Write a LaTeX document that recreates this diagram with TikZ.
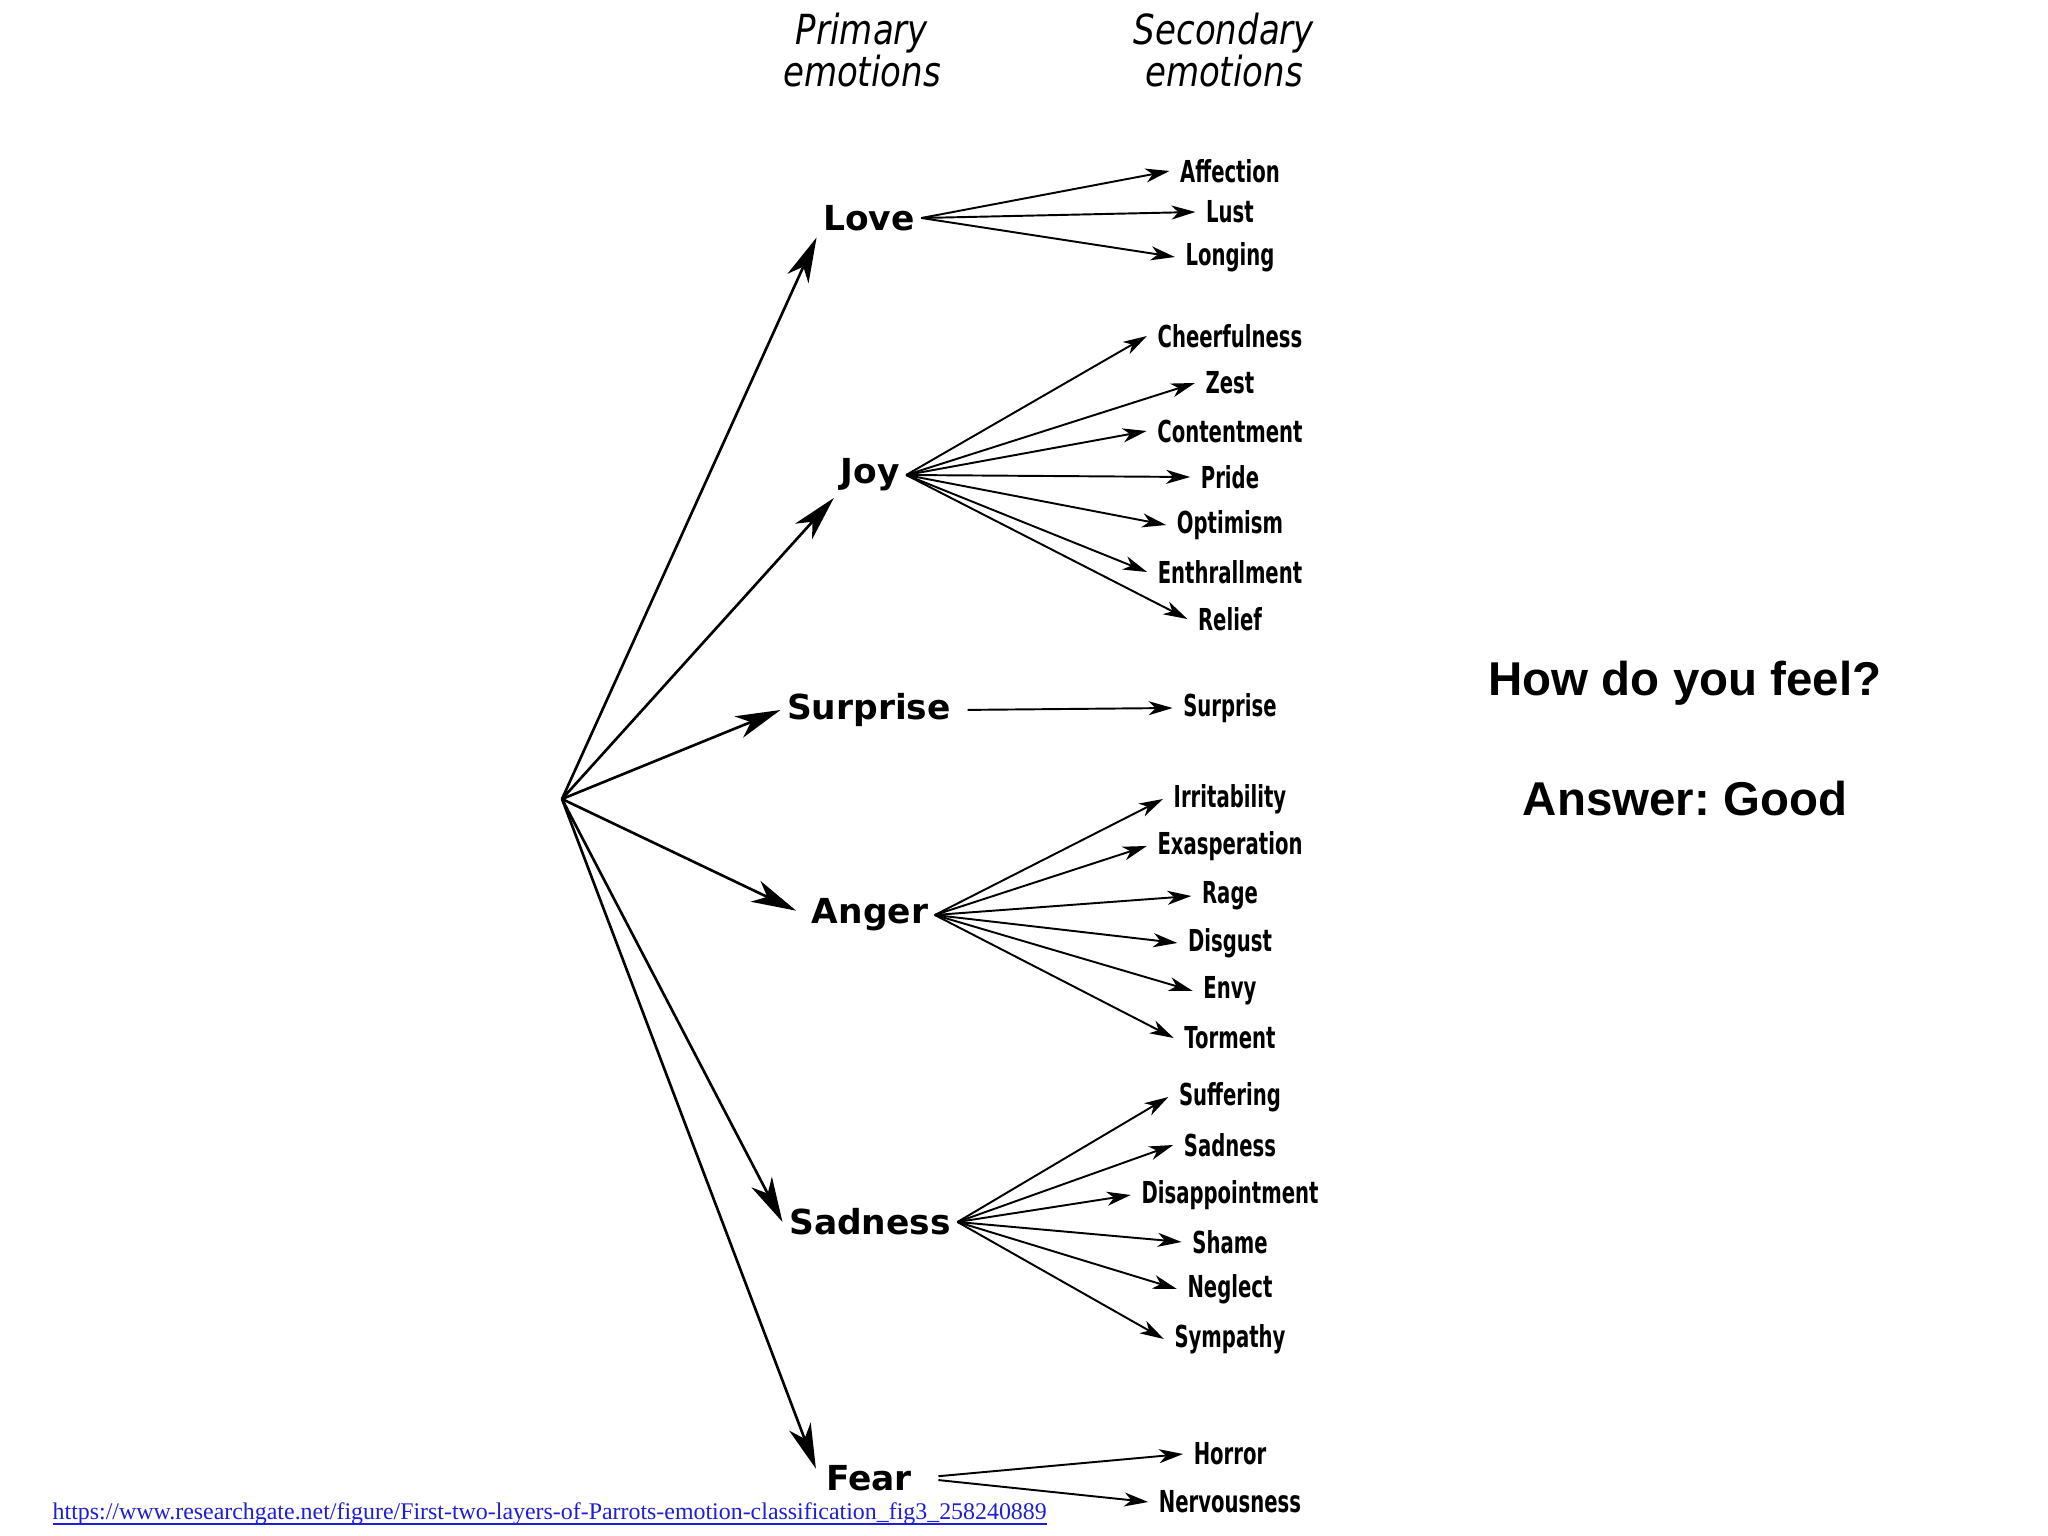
\documentclass[tikz,border=0pt]{standalone}
\usepackage{fontspec}
\usepackage{tikz}
\usetikzlibrary{arrows.meta}
\usetikzlibrary{positioning}
\newfontfamily\primfont{DejaVu Sans}
\newfontfamily\secfont{DejaVu Sans}[FakeStretch=0.65]
\newfontfamily\headfont{DejaVu Sans}[FakeStretch=0.82]
\newfontfamily\askfont{Liberation Sans}
\newfontfamily\linkfont{Liberation Serif}
\definecolor{linkblue}{RGB}{30,30,215}
\frenchspacing
\tikzset{primary/.style = {font=\primfont\bfseries\fontsize{9.8}{10}\selectfont, inner sep=0.6mm},
         secondary/.style = {font=\secfont\bfseries\fontsize{8.6}{9}\selectfont, inner xsep=1mm, inner ysep=0.5mm},
         header/.style = {font=\headfont\itshape\fontsize{11.8}{12}\selectfont, align=center},
         question/.style = {font=\askfont\bfseries\fontsize{13.5}{16}\selectfont},
         bigarrow/.style = {-{Stealth[length=4.5mm, width=2.3mm, inset=1.3mm]}, line width=0.75pt},
         smallarrow/.style = {-{Stealth[length=2.4mm, width=1.4mm, inset=0.7mm]}, line width=0.55pt}}

\begin{document}
\begin{tikzpicture}
    \useasboundingbox (0,0) rectangle (20.48,-15.36);

    \node[header] (primhead) at (8.62, -0.50) {Primary\\emotions};
    \node[header] (sechead) at (12.24, -0.50) {Secondary\\emotions};

    \coordinate (origin) at (5.62, -7.99);

    \node[primary] (love) at (8.69, -2.18) {Love};
    \node[primary] (joy) at (8.70, -4.75) {Joy};
    \node[primary] (surprise) at (8.69, -7.10) {Surprise};
    \node[primary] (anger) at (8.70, -9.15) {Anger};
    \node[primary] (sadness) at (8.70, -12.22) {Sadness};
    \node[primary] (fear) at (8.69, -14.78) {Fear};

    \draw[bigarrow] (origin) -- (love.south west);
    \draw[bigarrow] (origin) -- (joy.south west);
    \draw[bigarrow] (origin) -- (surprise.west);
    \draw[bigarrow, shorten >=1mm] (origin) -- (anger.west);
    \draw[bigarrow] (origin) -- (sadness.west);
    \draw[bigarrow, shorten >=1mm] (origin) -- (fear.west);

    \node[secondary] (affection) at (12.30, -1.71) {Affection};
    \node[secondary] (lust) at (12.30, -2.12) {Lust};
    \node[secondary] (longing) at (12.30, -2.57) {Longing};

    \node[secondary] (cheerfulness) at (12.30, -3.36) {Cheerfulness};
    \node[secondary] (zest) at (12.30, -3.83) {Zest};
    \node[secondary] (contentment) at (12.30, -4.31) {Contentment};
    \node[secondary] (pride) at (12.30, -4.77) {Pride};
    \node[secondary] (optimism) at (12.30, -5.25) {Optimism};
    \node[secondary] (enthrallment) at (12.30, -5.72) {Enthrallment};
    \node[secondary] (relief) at (12.30, -6.19) {Relief};

    \node[secondary] (surprisesec) at (12.30, -7.08) {Surprise};

    \node[secondary] (irritability) at (12.30, -7.99) {Irritability};
    \node[secondary] (exasperation) at (12.30, -8.46) {Exasperation};
    \node[secondary] (rage) at (12.30, -8.96) {Rage};
    \node[secondary] (disgust) at (12.30, -9.43) {Disgust};
    \node[secondary] (envy) at (12.30, -9.91) {Envy};
    \node[secondary] (torment) at (12.30, -10.38) {Torment};

    \node[secondary] (suffering) at (12.30, -10.97) {Suffering};
    \node[secondary] (sadnesssec) at (12.30, -11.45) {Sadness};
    \node[secondary] (disappointment) at (12.30, -11.95) {Disappointment};
    \node[secondary] (shame) at (12.30, -12.42) {Shame};
    \node[secondary] (neglect) at (12.30, -12.89) {Neglect};
    \node[secondary] (sympathy) at (12.30, -13.39) {Sympathy};

    \node[secondary] (horror) at (12.30, -14.54) {Horror};
    \node[secondary] (nervousness) at (12.30, -15.02) {Nervousness};

    \draw[smallarrow] (love.east) -- (affection.west);
    \draw[smallarrow] (love.east) -- (lust.west);
    \draw[smallarrow] (love.east) -- (longing.west);

    \draw[smallarrow] (joy.east) -- (cheerfulness.west);
    \draw[smallarrow] (joy.east) -- (zest.west);
    \draw[smallarrow] (joy.east) -- (contentment.west);
    \draw[smallarrow] (joy.east) -- (pride.west);
    \draw[smallarrow] (joy.east) -- (optimism.west);
    \draw[smallarrow] (joy.east) -- (enthrallment.west);
    \draw[smallarrow] (joy.east) -- (relief.west);

    \draw[smallarrow, shorten <=1mm] (surprise.east) -- (surprisesec.west);

    \draw[smallarrow] (anger.east) -- (irritability.west);
    \draw[smallarrow] (anger.east) -- (exasperation.west);
    \draw[smallarrow] (anger.east) -- (rage.west);
    \draw[smallarrow] (anger.east) -- (disgust.west);
    \draw[smallarrow] (anger.east) -- (envy.west);
    \draw[smallarrow] (anger.east) -- (torment.west);

    \draw[smallarrow] (sadness.east) -- (suffering.west);
    \draw[smallarrow] (sadness.east) -- (sadnesssec.west);
    \draw[smallarrow] (sadness.east) -- (disappointment.west);
    \draw[smallarrow] (sadness.east) -- (shame.west);
    \draw[smallarrow] (sadness.east) -- (neglect.west);
    \draw[smallarrow] (sadness.east) -- (sympathy.west);

    \draw[smallarrow, shorten <=2mm] (fear.east) -- (horror.west);
    \draw[smallarrow, shorten <=2mm] (fear.east) -- (nervousness.west);

    \node[question] (ask) at (16.85, -6.83) {How do you feel?};
    \node[question] (answer) at (16.85, -7.99) {Answer: Good};

    \node[anchor=base west, inner sep=0pt, text=linkblue, font=\linkfont\fontsize{6.8}{8}\selectfont] (link) at (0.52, -15.19)
        {\underline{\smash{https://www.researchgate.net/figure/First-two-layers-of-Parrots-emotion-classification\_fig3\_258240889}}};
\end{tikzpicture}
\end{document}
